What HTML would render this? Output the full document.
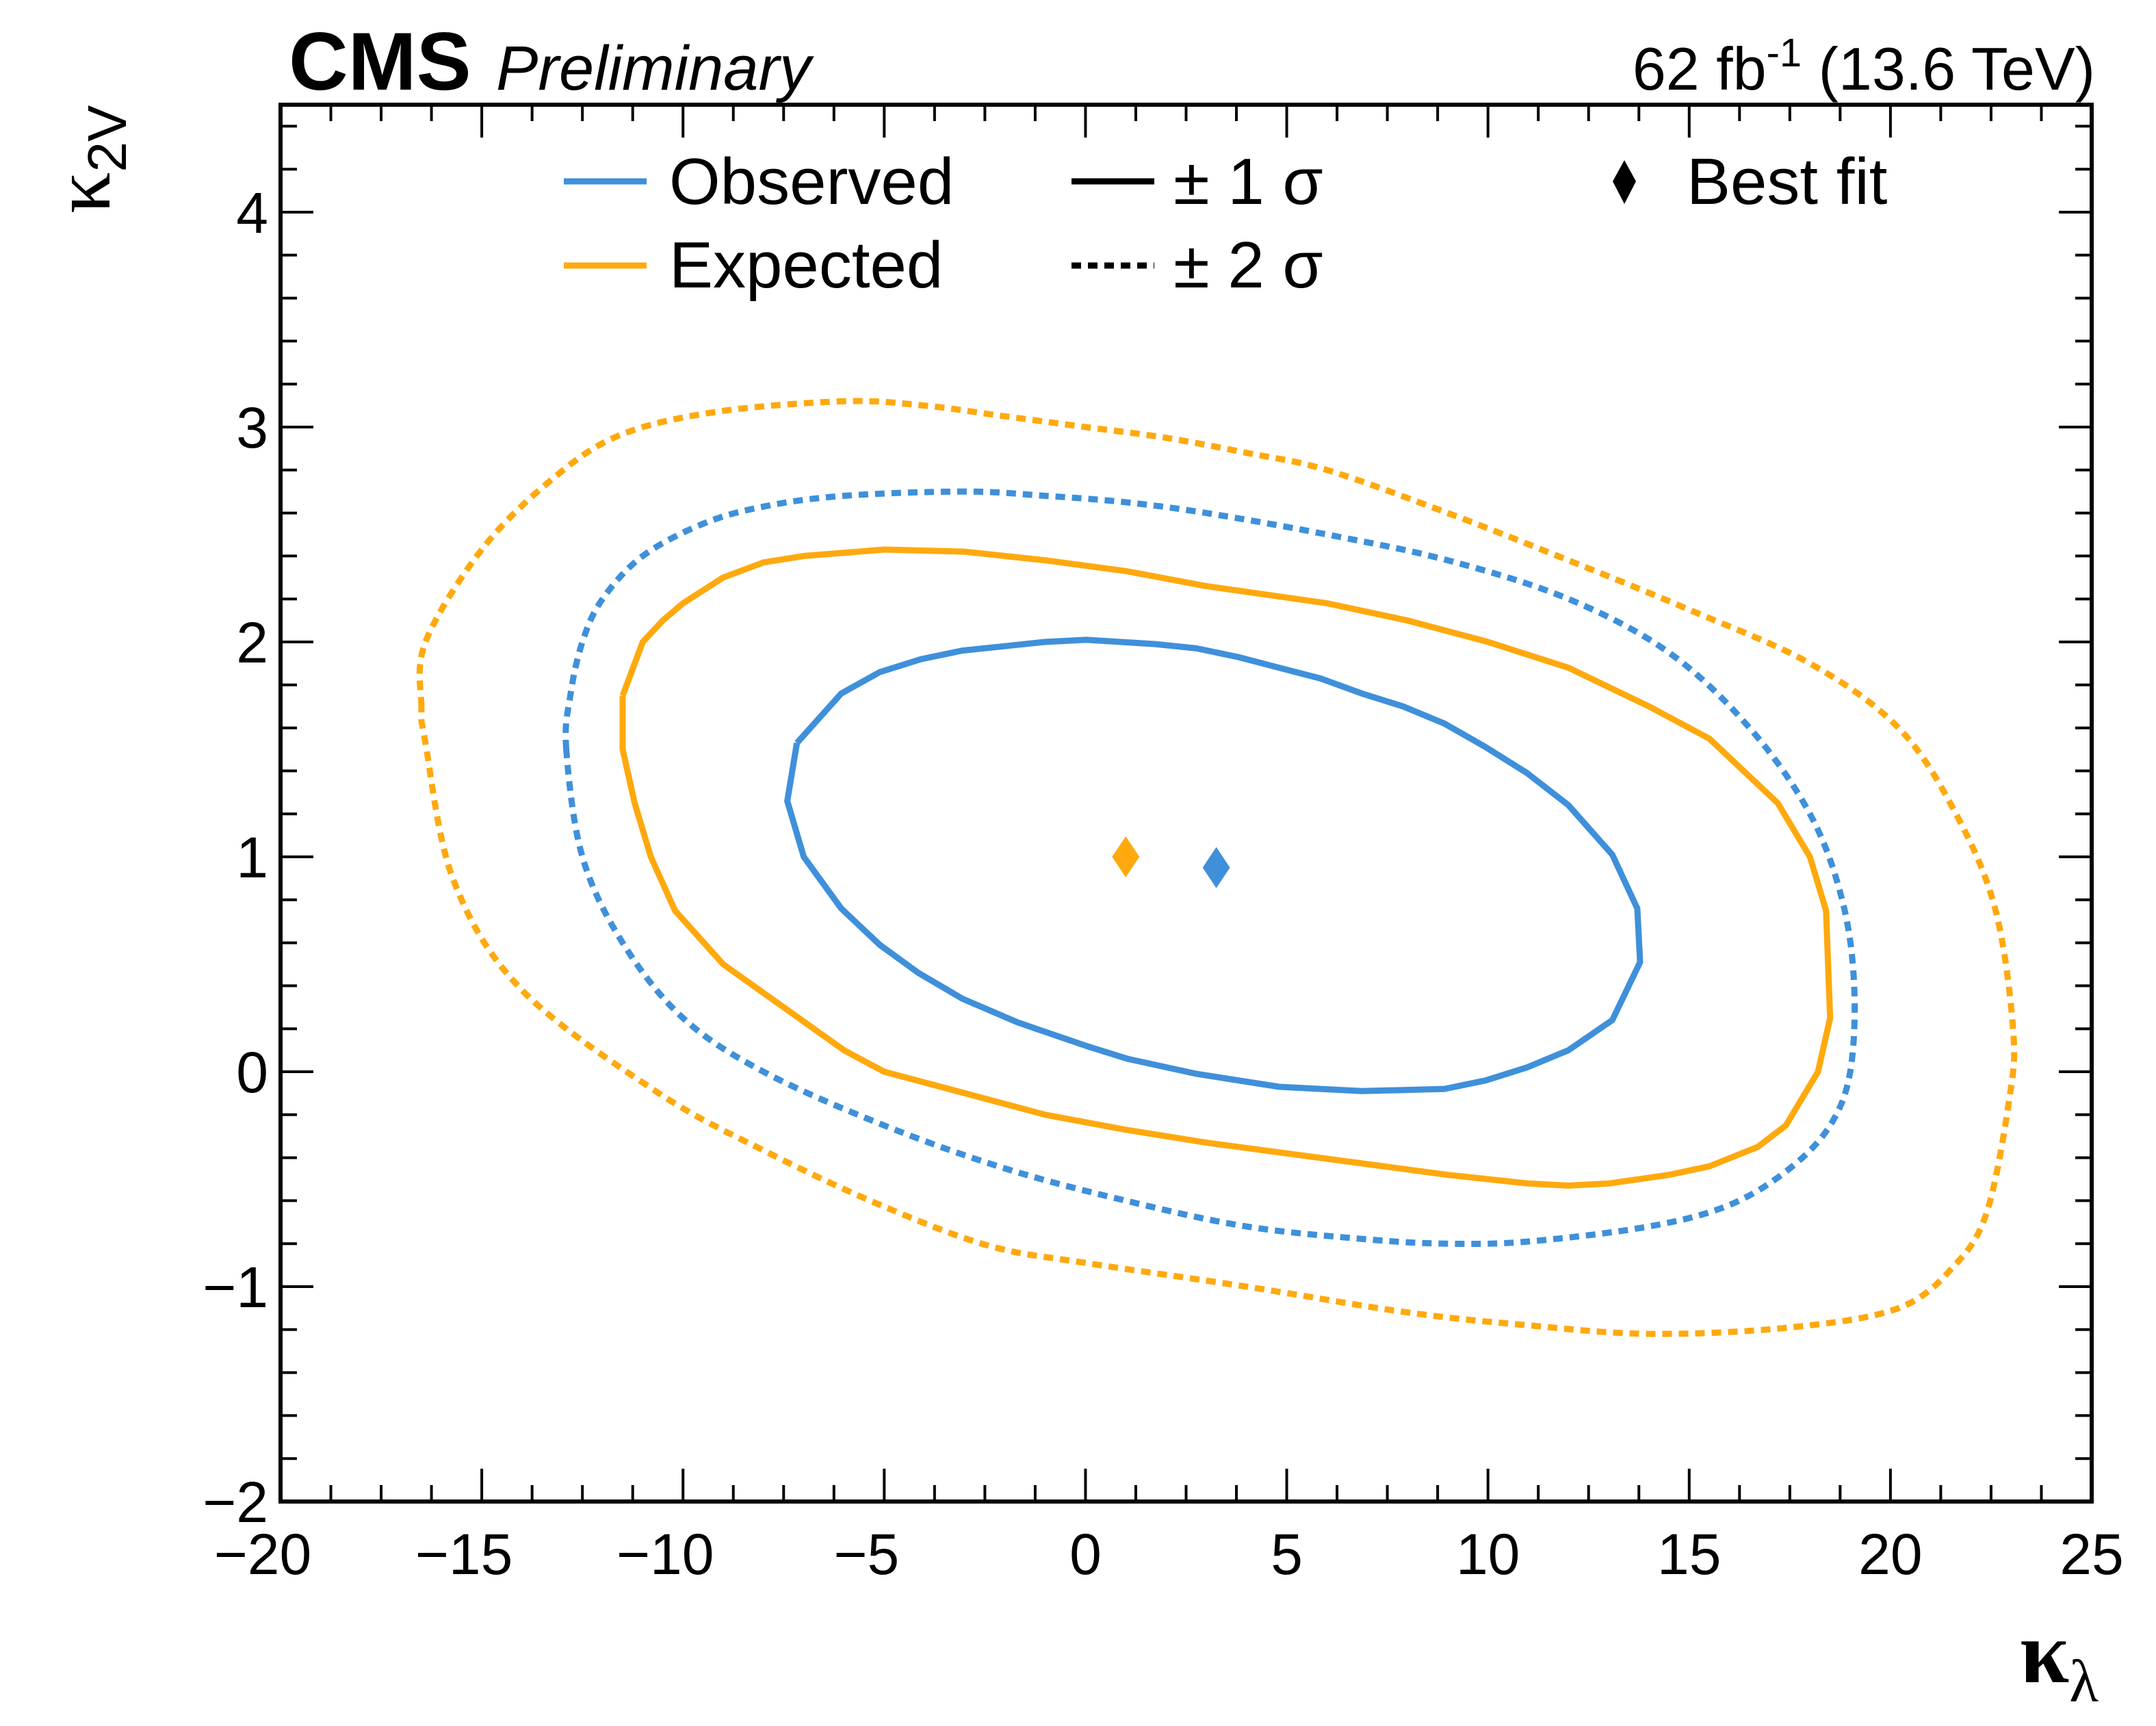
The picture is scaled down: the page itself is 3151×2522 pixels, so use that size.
<!DOCTYPE html>
<html><head><meta charset="utf-8"><style>
html,body{margin:0;padding:0;background:#fff;}
svg{display:block;font-family:"Liberation Sans",sans-serif;}
</style></head><body>
<svg id="chart" width="3151" height="2522" viewBox="0 0 3151 2522" xmlns="http://www.w3.org/2000/svg">
<rect width="3151" height="2522" fill="#fff"/>
<g id="ticks"></g>
<g id="curves"></g>
<rect x="410" y="153" width="2647" height="2041" fill="none" stroke="#000" stroke-width="6"/>
<g id="labels" font-size="84"></g>
<text x="422" y="131" font-size="120" font-weight="bold">CMS</text>
<text x="725" y="131" font-size="92" font-style="italic">Preliminary</text>
<text x="3062" y="131" font-size="88" text-anchor="end">62 fb<tspan dy="-34" font-size="58">-1</tspan><tspan dy="34"> (13.6 TeV)</tspan></text>
<text x="2952" y="2458" font-size="130" font-family="Liberation Serif,serif" font-weight="bold">κ<tspan dy="28" font-size="88" font-weight="normal">λ</tspan></text>
<text transform="translate(160,312) rotate(-90)" font-size="120" font-family="Liberation Serif,serif">κ<tspan dy="24" font-size="80" font-family="Liberation Sans,sans-serif">2V</tspan></text>
<g id="legend">
<line x1="824" y1="265" x2="945" y2="265" stroke="#3f90da" stroke-width="9"/>
<text x="978" y="298" font-size="96">Observed</text>
<line x1="824" y1="388" x2="945" y2="388" stroke="#ffa90e" stroke-width="9"/>
<text x="978" y="420" font-size="96">Expected</text>
<line x1="1566" y1="265" x2="1687" y2="265" stroke="#000" stroke-width="9"/>
<text x="1715" y="298" font-size="96">± 1 σ</text>
<line x1="1566" y1="388" x2="1687" y2="388" stroke="#000" stroke-width="9" stroke-dasharray="14 10"/>
<text x="1715" y="420" font-size="96">± 2 σ</text>
<polygon points="2374,234 2391,265 2374,298 2357,265" fill="#000"/>
<text x="2465" y="298" font-size="96">Best fit</text>
</g>
</svg>
<script>
const xTicks=[-20,-15,-10,-5,0,5,10,15,20,25];
const yTicks=[-2,-1,0,1,2,3,4];
const obs1X=[-7.17,-7.41,-7.0,-6.07,-5.11,-4.15,-3.06,-1.69,0.02,1.05,2.76,4.81,6.87,8.92,9.95,10.97,12.0,13.09,13.78,13.71,13.09,12.0,10.97,9.95,8.92,7.89,6.87,5.84,4.81,3.79,2.76,1.73,0.02,-1.01,-2.03,-3.06,-4.08,-5.11,-6.07,-7.17];
const obs1Y=[1.53,1.26,1.0,0.76,0.59,0.46,0.34,0.23,0.12,0.06,-0.01,-0.07,-0.09,-0.08,-0.04,0.02,0.10,0.24,0.51,0.76,1.01,1.24,1.39,1.51,1.62,1.70,1.76,1.83,1.88,1.93,1.97,1.99,2.01,2.0,1.98,1.96,1.92,1.86,1.76,1.53];
const exp1X=[-11.5,-11.5,-11.2,-10.8,-10.2,-9,-7.5,-6,-5,-3,-1,1,3,5,7,9,11,12,13,14.5,15.5,16.7,17.4,18.2,18.5,18.4,18.0,17.2,15.5,14,12,10,8,6,3,1,-1,-3,-5,-7,-8,-9,-10,-10.5,-11,-11.5];
const exp1Y=[1.75,1.5,1.25,1.0,0.75,0.5,0.3,0.1,0.0,-0.1,-0.2,-0.27,-0.33,-0.38,-0.43,-0.48,-0.52,-0.53,-0.52,-0.48,-0.44,-0.35,-0.25,0.0,0.25,0.75,1.0,1.25,1.55,1.7,1.88,2.0,2.1,2.18,2.26,2.33,2.38,2.42,2.43,2.4,2.37,2.3,2.18,2.1,2.0,1.75];
const obs2X=[-12.9,-12.8,-12.5,-12,-11,-9.5,-8,-6,-3,-1,1,3,6,9,12,14.5,16.5,18,18.8,19.1,19.0,18.5,17.5,16,14,11,9,7,4,1,-2,-5,-8,-10,-11.5,-12.5];
const obs2Y=[1.5,1.75,2.0,2.2,2.4,2.55,2.63,2.68,2.7,2.68,2.65,2.6,2.5,2.38,2.2,1.95,1.6,1.2,0.8,0.4,0.0,-0.25,-0.45,-0.62,-0.72,-0.79,-0.8,-0.78,-0.72,-0.6,-0.45,-0.25,0.0,0.25,0.6,1.0];
const exp2X=[-16.5,-16.4,-15.0,-13.3,-11.6,-9.2,-6,-4,-2,0,2,4,6,9,12,15,18,20.2,21.6,22.6,23.05,22.95,22.4,21.6,20.2,17.5,14.05,11,8,4,0.02,-2.4,-5.1,-7.85,-10.6,-14.0,-15.7,-16.4];
const exp2Y=[1.7,2.0,2.43,2.75,2.96,3.07,3.12,3.1,3.05,3.0,2.95,2.88,2.8,2.6,2.38,2.15,1.9,1.6,1.21,0.76,0.19,-0.13,-0.65,-0.9,-1.1,-1.19,-1.22,-1.18,-1.12,-1.0,-0.89,-0.81,-0.62,-0.38,-0.10,0.38,0.89,1.53];
const bestX=[1.0,3.25];
const bestY=[1.0,0.95];

const NS='http://www.w3.org/2000/svg';
const X0=410,X1=3057,Y0=2194,Y1=153,xmin=-20,xmax=25,ymin=-2,ymax=4.5;
function sx(v){return X0+(v-xmin)/(xmax-xmin)*(X1-X0);}
function sy(v){return Y0-(v-ymin)/(ymax-ymin)*(Y0-Y1);}
function mk(tag,attrs,parent){const e=document.createElementNS(NS,tag);for(const k in attrs)e.setAttribute(k,attrs[k]);parent.appendChild(e);return e;}
const tg=document.getElementById('ticks'),lg=document.getElementById('labels'),cg=document.getElementById('curves');
for(let v=xmin;v<=xmax+1e-6;v+=1.25){
  const major=Math.abs(v/5-Math.round(v/5))<1e-6;const L=major?48:24;const x=sx(v);
  const t1=mk('line',{x1:x,y1:Y0,x2:x,y2:Y0-L,stroke:'#000','stroke-width':4},tg);
  
  
  const t2=mk('line',{x1:x,y1:Y1,x2:x,y2:Y1+L,stroke:'#000','stroke-width':4},tg);
  
  
}
for(let v=ymin;v<=ymax+1e-6;v+=0.2){
  const major=Math.abs(v-Math.round(v))<1e-6;const L=major?48:24;const y=sy(v);
  const t1=mk('line',{x1:X0,y1:y,x2:X0+L,y2:y,stroke:'#000','stroke-width':4},tg);
  
  
  const t2=mk('line',{x1:X1,y1:y,x2:X1-L,y2:y,stroke:'#000','stroke-width':4},tg);
  
  
}
xTicks.forEach(v=>{
  const t=mk('text',{x:sx(v)-(v<0?26:0),y:2300,'text-anchor':'middle'},lg);
  t.textContent=v<0?'\u2212'+(-v):String(v);
  
  
});
yTicks.forEach(v=>{
  const t=mk('text',{x:392,y:sy(v)+30,'text-anchor':'end'},lg);
  t.textContent=v<0?'\u2212'+(-v):String(v);
  
  
});
function smoothPath(pts){
  const n=pts.length;let d='M'+pts[0][0].toFixed(1)+','+pts[0][1].toFixed(1);
  for(let i=0;i<n;i++){
    const p0=pts[(i-1+n)%n],p1=pts[i],p2=pts[(i+1)%n],p3=pts[(i+2)%n];
    const c1=[p1[0]+(p2[0]-p0[0])/6,p1[1]+(p2[1]-p0[1])/6];
    const c2=[p2[0]-(p3[0]-p1[0])/6,p2[1]-(p3[1]-p1[1])/6];
    d+=' C'+c1.map(v=>v.toFixed(1)).join(',')+' '+c2.map(v=>v.toFixed(1)).join(',')+' '+p2[0].toFixed(1)+','+p2[1].toFixed(1);
  }
  return d;
}
function curve(xs,ys,color,dash,name){
  let d;
  if(dash){d=smoothPath(xs.map((x,i)=>[sx(x),sy(ys[i])]));}
  else{d=xs.map((x,i)=>(i?'L':'M')+sx(x).toFixed(1)+','+sy(ys[i]).toFixed(1)).join(' ');}
  const p=mk('path',{d:d,fill:'none',stroke:color,'stroke-width':9,'stroke-linejoin':'round'},cg);
  if(dash)p.setAttribute('stroke-dasharray','14 10');
  
  
}
curve(exp2X,exp2Y,'#ffa90e',true,'expected-2sigma-contour');
curve(obs2X,obs2Y,'#3f90da',true,'observed-2sigma-contour');
curve(exp1X,exp1Y,'#ffa90e',false,'expected-1sigma-contour');
curve(obs1X,obs1Y,'#3f90da',false,'observed-1sigma-contour');
const bcol=['#ffa90e','#3f90da'],bname=['expected-best-fit','observed-best-fit'];
bestX.forEach((v,i)=>{
  const x=sx(v),y=sy(bestY[i]);
  const p=mk('polygon',{points:`${x},${y-30} ${x+20},${y} ${x},${y+30} ${x-20},${y}`,fill:bcol[i]},cg);
  
  
});
</script>
</body></html>
